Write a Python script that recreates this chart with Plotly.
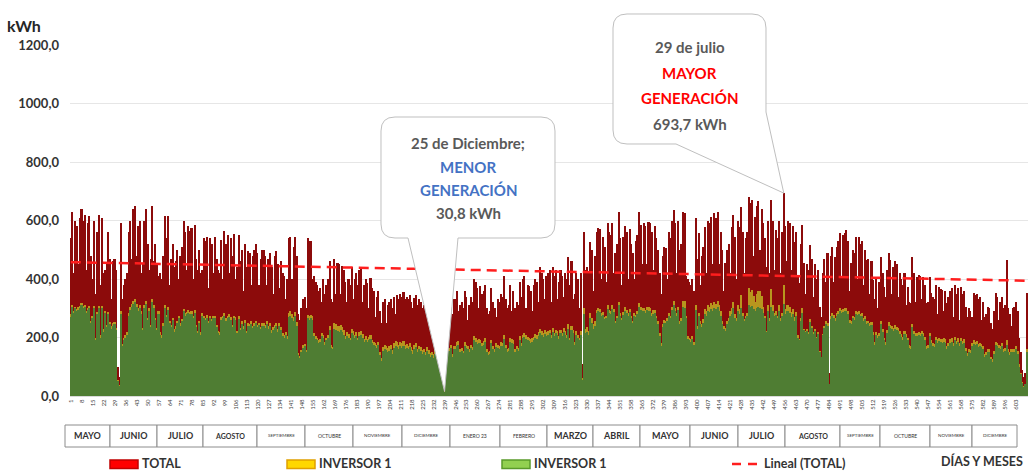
import numpy as np
import plotly.graph_objects as go

# ---------------- DATA (daily kWh) ----------------
# TOTAL per month
t_may1 = [540,630,420,600,580,450,610,640,600,620,430,590,615,480,400,600,350,560,620,380,610,420,430,450,560,470,330,460,470,430,100]
t_jun1 = [65,590,330,380,400,420,560,600,470,640,650,480,580,600,420,450,600,640,520,430,470,650,460,520,450,410,420,400,480,615]
t_jul1 = [540,615,380,470,520,440,460,500,400,480,510,600,560,430,580,565,575,400,585,470,430,500,420,430,540,530,545,370,540,520,420]
t_aug1 = [545,470,430,420,535,400,565,520,550,420,540,480,555,400,440,550,460,500,360,520,440,495,490,380,480,500,520,490,380,470,500]
t_sep1 = [500,480,380,470,490,440,350,480,495,450,370,460,420,410,330,400,540,545,400,510,545,480,280,260,300,330,340,300,540,530]
t_oct1 = [530,400,410,390,380,360,370,320,400,350,380,400,460,330,320,470,350,455,450,350,445,430,390,320,400,380,440,330,400,420,380]
t_nov1 = [430,440,320,380,400,385,300,405,370,360,270,340,360,290,250,320,330,250,310,320,330,300,340,280,345,330,350,340,355,330]
t_dec1 = [340,330,345,320,300,335,345,310,330,320,300,310,290,320,300,280,290,270,300,260,280,250,220,150,30.8,180,350,320,340,280,330]
t_jan2 = [330,360,290,310,320,300,360,340,260,310,340,320,400,390,370,300,375,350,360,380,300,280,290,370,320,300,270,330,320,350,340]
t_feb2 = [410,330,300,310,380,290,360,300,320,310,390,340,400,410,300,380,375,360,290,380,400,390,320,440,420,400,330,410]
t_mar2 = [420,430,320,440,410,430,330,390,430,410,340,420,400,475,380,460,330,350,420,400,300,420,110,560,430,440,420,527,500,360,480]
t_apr2 = [560,575,570,400,545,510,390,590,560,550,590,420,490,520,630,540,380,545,580,560,400,570,520,490,400,530,550,630,585,450]
t_may2 = [590,580,450,595,590,560,430,580,540,500,420,350,480,510,505,400,560,540,600,636,590,420,600,500,520,630,625,410,400,390,380]
t_jun2 = [400,360,608,470,557,380,480,510,578,420,600,590,612,450,625,610,630,450,560,500,360,455,500,520,420,578,620,545,400,600]
t_jul2 = [578,646,560,420,540,560,680,660,670,480,612,650,665,500,640,590,540,441,600,420,670,600,430,567,540,600,420,560,693.7,580,460]
t_aug2 = [600,590,430,580,527,560,407,386,520,585,455,350,450,430,516,470,340,450,400,430,305,270,420,470,390,490,80,480,510,390,475]
t_sep2 = [510,530,557,410,550,557,567,530,360,455,500,490,545,400,545,520,530,380,500,465,470,350,460,397,330,400,300,390,475,420]
t_oct2 = [373,340,430,490,465,350,441,460,450,340,420,400,380,420,310,373,320,318,475,420,320,407,415,410,330,407,380,318,320,407,352]
t_nov2 = [340,330,380,280,373,365,362,290,360,318,340,360,369,270,380,350,370,260,373,350,360,305,270,300,290,270,352,345,350,330]
t_dec2 = [340,260,320,270,280,305,300,250,230,290,352,340,260,320,340,300,310,465,300,280,240,300,305,320,290,200,150,90,65,80,352]

# INVERSOR 1 (yellow) per month
y_may1 = [280,312,292,306,298,303,308,318,308,312,292,302,308,258,272,307,198,288,308,208,308,228,292,242,288,252,238,248,252,232,55]
y_jun1 = [38,290,178,198,208,218,285,305,315,325,330,315,300,310,290,233,310,325,268,300,243,330,310,268,233,290,218,208,248,310]
y_jul1 = [278,303,258,243,268,228,238,258,273,248,263,298,283,288,293,288,290,273,293,243,223,258,218,283,273,268,276,258,273,263,273]
y_aug1 = [275,243,223,218,270,275,285,265,275,280,270,243,275,270,223,272,233,255,238,260,223,250,246,255,240,250,258,244,250,236,248]
y_sep1 = [250,242,255,238,248,225,235,242,250,230,248,235,215,210,220,205,285,290,280,270,287,252,148,138,158,173,178,158,278,272]
y_oct1 = [278,272,215,205,200,190,195,215,210,185,200,210,240,173,168,248,245,240,238,243,235,225,205,218,212,200,230,222,210,218,200]
y_nov1 = [218,222,212,196,204,196,202,208,192,186,182,176,186,150,130,168,175,172,165,170,176,158,180,188,183,175,186,180,188,175]
y_dec1 = [178,172,180,168,158,175,180,162,172,168,158,162,152,168,158,148,152,142,158,138,148,132,115,78,16.8,92,180,165,175,145,170]
y_jan2 = [170,184,188,160,165,155,184,175,170,160,176,168,205,200,192,196,193,182,188,197,160,150,155,193,170,160,180,176,170,185,182]
y_feb2 = [208,175,160,165,198,194,190,160,170,165,205,180,210,215,208,203,200,194,198,203,212,208,218,228,222,214,225,218]
y_mar2 = [222,226,210,232,216,226,222,205,226,216,232,222,210,245,200,238,226,185,222,210,200,222,60,300,228,235,222,285,268,245,255]
y_apr2 = [295,300,298,284,287,270,273,310,295,290,310,298,258,273,322,284,268,287,303,295,284,298,273,258,284,278,290,318,305,302]
y_may2 = [300,295,305,303,300,285,293,295,275,255,215,180,245,260,257,265,285,275,305,326,300,285,305,255,265,325,325,275,205,200,195]
y_jun2 = [205,185,312,240,285,255,245,262,298,290,310,305,318,310,322,315,326,310,290,258,240,232,258,268,290,300,320,280,268,310]
y_jul2 = [296,346,285,262,275,285,370,355,362,342,322,350,360,358,342,305,275,221,310,265,365,310,285,289,275,310,265,285,378.7,298,310]
y_aug2 = [310,305,287,298,269,288,207,196,265,300,230,223,228,218,264,238,218,228,202,218,155,135,212,238,255,250,40,272,285,278,265]
y_sep2 = [285,292,300,295,298,300,302,290,260,255,275,270,292,288,292,282,285,268,272,255,258,248,252,220,185,220,210,215,255,230]
y_oct2 = [200,185,226,252,244,240,233,242,236,233,222,212,202,222,212,200,175,172,247,222,216,215,218,216,222,215,202,172,175,215,190]
y_nov2 = [182,178,202,194,200,196,194,198,194,172,182,194,198,182,202,188,198,182,200,188,194,165,148,162,158,182,190,185,188,178]
y_dec2 = [180,178,170,145,150,162,160,135,125,155,186,180,175,170,180,160,165,190,160,150,162,160,162,170,155,108,80,48,34,42,160]

# INVERSOR (green) per month
g_may1 = [270,305,285,300,290,295,300,310,300,305,285,295,300,250,265,300,190,280,300,200,300,220,285,235,280,245,230,240,245,225,50]
g_jun1 = [35,280,170,190,200,210,275,295,305,315,320,305,290,300,280,225,300,315,260,290,235,320,300,260,225,280,210,200,240,300]
g_jul1 = [270,295,250,235,260,220,230,250,265,240,255,290,275,280,285,280,282,265,285,235,215,250,210,275,265,260,268,250,265,255,265]
g_aug1 = [265,235,215,210,260,265,275,255,265,270,260,235,265,260,215,262,225,245,230,250,215,240,238,245,232,240,248,236,242,228,240]
g_sep1 = [240,232,245,228,238,215,225,232,240,220,238,225,205,200,210,195,270,275,265,255,272,240,140,130,150,165,170,150,265,260]
g_oct1 = [265,260,205,195,190,180,185,205,200,175,190,200,225,165,160,230,225,222,220,225,218,210,195,205,200,190,215,210,200,205,190]
g_nov1 = [205,210,200,185,192,185,190,195,180,175,170,165,175,140,120,155,160,158,150,155,160,145,165,172,168,160,170,165,172,160]
g_dec1 = [165,160,168,155,145,162,168,150,160,155,145,150,140,155,145,135,140,130,145,125,135,120,105,72,14,88,170,155,165,135,160]
g_jan2 = [160,172,176,150,155,146,172,165,160,152,165,158,190,186,178,182,180,170,175,183,150,140,145,180,160,150,168,165,160,172,170]
g_feb2 = [195,165,150,155,185,182,178,150,160,155,192,170,198,202,195,190,188,182,186,190,200,196,205,215,210,202,212,206]
g_mar2 = [210,215,200,220,205,215,210,195,215,205,220,210,200,230,190,225,215,175,210,200,190,210,55,280,215,220,210,265,250,230,240]
g_apr2 = [285,290,288,275,278,262,265,298,285,280,298,288,250,265,310,275,260,278,292,285,275,288,265,250,275,270,280,305,295,292]
g_may2 = [290,285,295,292,290,275,282,285,265,245,205,170,235,250,248,255,275,265,295,310,290,275,295,245,255,305,300,265,195,190,185]
g_jun2 = [195,175,295,230,272,245,235,250,282,275,292,288,298,292,302,296,305,292,275,245,230,222,245,255,275,282,300,265,255,292]
g_jul2 = [282,300,275,258,265,275,310,305,308,298,290,300,305,302,298,285,265,220,290,255,305,290,275,278,265,290,255,275,315,282,290]
g_aug2 = [290,285,270,282,258,272,200,190,255,285,225,218,222,212,252,232,212,222,198,212,150,135,208,232,245,240,40,262,275,268,255]
g_sep2 = [275,282,290,285,288,290,292,280,250,245,265,260,282,278,282,272,275,258,262,245,248,238,242,210,175,210,200,205,245,220]
g_oct2 = [190,175,215,240,232,228,222,230,225,222,212,202,192,212,202,190,165,162,235,212,206,205,208,206,212,205,192,162,165,205,180]
g_nov2 = [172,168,190,182,188,184,182,186,182,162,172,182,186,172,190,178,186,172,188,178,182,155,138,152,148,172,178,175,178,168]
g_dec2 = [170,168,160,135,140,152,150,125,115,145,175,170,165,160,170,150,155,175,150,140,152,150,152,160,145,100,75,45,32,40,150]

month_names = ["MAYO", "JUNIO", "JULIO", "AGOSTO", "SEPTIEMBRE", "OCTUBRE", "NOVIEMBRE",
               "DICIEMBRE", "ENERO 23", "FEBRERO", "MARZO", "ABRIL", "MAYO", "JUNIO",
               "JULIO", "AGOSTO", "SEPTIEMBRE", "OCTUBRE", "NOVIEMBRE", "DICIEMBRE"]
y_tick_vals = [0, 200, 400, 600, 800, 1000, 1200]
y_tick_text = ["0,0", "200,0", "400,0", "600,0", "800,0", "1000,0", "1200,0"]

total = np.concatenate([t_may1, t_jun1, t_jul1, t_aug1, t_sep1, t_oct1, t_nov1, t_dec1, t_jan2, t_feb2,
                        t_mar2, t_apr2, t_may2, t_jun2, t_jul2, t_aug2, t_sep2, t_oct2, t_nov2, t_dec2])
inv1 = np.concatenate([y_may1, y_jun1, y_jul1, y_aug1, y_sep1, y_oct1, y_nov1, y_dec1, y_jan2, y_feb2,
                       y_mar2, y_apr2, y_may2, y_jun2, y_jul2, y_aug2, y_sep2, y_oct2, y_nov2, y_dec2])
inv2 = np.concatenate([g_may1, g_jun1, g_jul1, g_aug1, g_sep1, g_oct1, g_nov1, g_dec1, g_jan2, g_feb2,
                       g_mar2, g_apr2, g_may2, g_jun2, g_jul2, g_aug2, g_sep2, g_oct2, g_nov2, g_dec2])
n = len(total)
days = np.arange(1, n + 1)
tick_days = list(range(1, n, 7))

# linear trend of TOTAL
slope, intercept = np.polyfit(days, total, 1)
trend = slope * days + intercept

# ---------------- LAYOUT GEOMETRY ----------------
W, H = 1031, 474
ML, MR, MT, MB = 70, 3, 45, 78
PW, PH = W - ML - MR, H - MT - MB
YMAX = 1200
FONT = "Lato"

def px(xp):  # pixel x -> paper
    return (xp - ML) / PW

def py(yp):  # pixel y -> paper
    return (H - MB - yp) / PH

def day_px(d):
    return ML + (d - 0.5) * PW / n

def val_py(v):
    return (H - MB) - v * PH / YMAX

fig = go.Figure()
fig.add_trace(go.Bar(x=days, y=total, name="TOTAL", marker=dict(color="#8C0B0B", line=dict(width=0)),
                     showlegend=False))
fig.add_trace(go.Bar(x=days, y=inv1, name="INVERSOR 1", marker=dict(color="#B8961E", line=dict(width=0)),
                     showlegend=False))
fig.add_trace(go.Bar(x=days, y=inv2, name="INVERSOR 1 ", marker=dict(color="#4F7D33", line=dict(width=0)),
                     showlegend=False))
fig.add_trace(go.Scatter(x=days, y=trend, mode="lines", name="Lineal (TOTAL)",
                         line=dict(color="#FF1E1E", width=2.5, dash="10px,6px"), showlegend=False))

shapes = []
annotations = []

def P(x, y):
    return f"{px(x):.5f},{py(y):.5f}"

# ---- callout 1 (minimum) ----
imin = int(np.argmin(total))
tip1 = (day_px(days[imin]), val_py(total[imin] / 2))
x0, y0, x1, y1, r = 381, 117, 555, 238, 14
path1 = (f"M{P(x0+r,y0)} L{P(x1-r,y0)} Q{P(x1,y0)} {P(x1,y0+r)} L{P(x1,y1-r)} Q{P(x1,y1)} {P(x1-r,y1)} "
         f"L{P(458,y1)} L{P(*tip1)} L{P(408,y1)} L{P(x0+r,y1)} Q{P(x0,y1)} {P(x0,y1-r)} "
         f"L{P(x0,y0+r)} Q{P(x0,y0)} {P(x0+r,y0)} Z")
shapes.append(dict(type="path", xref="paper", yref="paper", path=path1,
                   fillcolor="white", line=dict(color="#BFBFBF", width=1), layer="above"))
c1x = (x0 + x1) / 2
for txt, yy, col in [("25 de Diciembre;", 143, "#595959"), ("MENOR", 167, "#4472C4"),
                     ("GENERACIÓN", 190, "#4472C4"), ("30,8 kWh", 213, "#595959")]:
    annotations.append(dict(x=px(c1x), y=py(yy), xref="paper", yref="paper", text=txt, showarrow=False,
                            xanchor="center", yanchor="middle",
                            font=dict(family=FONT, size=15, color=col, weight="bold")))

# ---- callout 2 (maximum) ----
imax = int(np.argmax(total))
tip2 = (day_px(days[imax]), val_py(total[imax]))
x0, y0, x1, y1, r = 613, 14, 766, 144, 14
path2 = (f"M{P(x0+r,y0)} L{P(x1-r,y0)} Q{P(x1,y0)} {P(x1,y0+r)} L{P(x1,112)} L{P(*tip2)} "
         f"L{P(676,y1)} L{P(x0+r,y1)} Q{P(x0,y1)} {P(x0,y1-r)} "
         f"L{P(x0,y0+r)} Q{P(x0,y0)} {P(x0+r,y0)} Z")
shapes.append(dict(type="path", xref="paper", yref="paper", path=path2,
                   fillcolor="white", line=dict(color="#BFBFBF", width=1), layer="above"))
c2x = (x0 + x1) / 2
for txt, yy, col in [("29 de julio", 47, "#595959"), ("MAYOR", 73, "#FF0000"),
                     ("GENERACIÓN", 98, "#FF0000"), ("693,7 kWh", 124, "#595959")]:
    annotations.append(dict(x=px(c2x), y=py(yy), xref="paper", yref="paper", text=txt, showarrow=False,
                            xanchor="center", yanchor="middle",
                            font=dict(family=FONT, size=15, color=col, weight="bold")))

# ---- month boxes row ----
edges = [65, 110, 157, 203, 257, 305, 353, 402, 450, 500, 547, 593, 640, 690, 738, 785, 840, 880, 930, 972, 1017]
for i, name in enumerate(month_names):
    xa, xb = edges[i], edges[i + 1]
    shapes.append(dict(type="rect", xref="paper", yref="paper", x0=px(xa), x1=px(xb), y0=py(447), y1=py(425),
                       line=dict(color="#8C8C8C", width=1), fillcolor="white", layer="above"))
    if len(name) <= 5:
        fs = 9
    elif len(name) <= 6:
        fs = 7
    elif len(name) <= 8:
        fs = 5
    else:
        fs = 4.5
    annotations.append(dict(x=px((xa + xb) / 2), y=py(436), xref="paper", yref="paper", text=name,
                            showarrow=False, xanchor="center", yanchor="middle",
                            font=dict(family=FONT, size=fs, color="#333333",
                                      weight="bold" if fs >= 7 else "normal")))

# ---- custom legend ----
LEG_Y = 464
legend_items = [("TOTAL", 110, "#FF0000", "#C00000"), ("INVERSOR 1", 287, "#FFD700", "#E0A000"),
                ("INVERSOR 1", 502, "#92D050", "#5A9A2A")]
for label, lx, fc, lc in legend_items:
    shapes.append(dict(type="rect", xref="paper", yref="paper", x0=px(lx), x1=px(lx + 28),
                       y0=py(LEG_Y + 4.5), y1=py(LEG_Y - 4), fillcolor=fc, line=dict(color=lc, width=1.5),
                       layer="above"))
    annotations.append(dict(x=px(lx + 30), y=py(LEG_Y), xref="paper", yref="paper", text=label, showarrow=False,
                            xanchor="left", yanchor="middle",
                            font=dict(family=FONT, size=12.5, color="#333333", weight="bold")))
for a, b in [(732, 741), (748, 757)]:
    shapes.append(dict(type="line", xref="paper", yref="paper", x0=px(a), x1=px(b), y0=py(LEG_Y), y1=py(LEG_Y),
                       line=dict(color="#FF1E1E", width=2.5), layer="above"))
annotations.append(dict(x=px(762), y=py(LEG_Y), xref="paper", yref="paper", text="Lineal (TOTAL)",
                        showarrow=False, xanchor="left", yanchor="middle",
                        font=dict(family=FONT, size=12.5, color="#333333", weight="bold")))
annotations.append(dict(x=px(1025), y=py(461), xref="paper", yref="paper", text="DÍAS Y MESES",
                        showarrow=False, xanchor="right", yanchor="middle",
                        font=dict(family=FONT, size=12.5, color="#333333", weight="bold")))
annotations.append(dict(x=px(5), y=py(26), xref="paper", yref="paper", text="kWh",
                        showarrow=False, xanchor="left", yanchor="middle",
                        font=dict(family=FONT, size=16, color="#262626", weight="bold")))

fig.update_layout(
    width=W, height=H,
    margin=dict(l=ML, r=MR, t=MT, b=MB),
    paper_bgcolor="white", plot_bgcolor="white",
    barmode="overlay", bargap=0,
    showlegend=False,
    font=dict(family=FONT, color="#333333"),
    shapes=shapes, annotations=annotations,
    xaxis=dict(range=[0.5, n + 0.5], tickmode="array", tickvals=tick_days,
               ticktext=[str(d) for d in tick_days], tickangle=-90,
               tickfont=dict(family=FONT, size=6, color="#444444"),
               showgrid=False, zeroline=False, showline=True, linecolor="#D9D9D9", ticks=""),
    yaxis=dict(range=[0, YMAX], tickmode="array", tickvals=y_tick_vals, ticktext=y_tick_text,
               tickfont=dict(family=FONT, size=13, color="#333333", weight="bold"),
               showgrid=True, gridcolor="#E6E6E6", gridwidth=1, zeroline=False, ticklabelstandoff=10),
)

fig.write_html("out.html", config={"displayModeBar": False},
               post_script="document.body.style.margin='0px';document.documentElement.style.overflow='hidden';")
